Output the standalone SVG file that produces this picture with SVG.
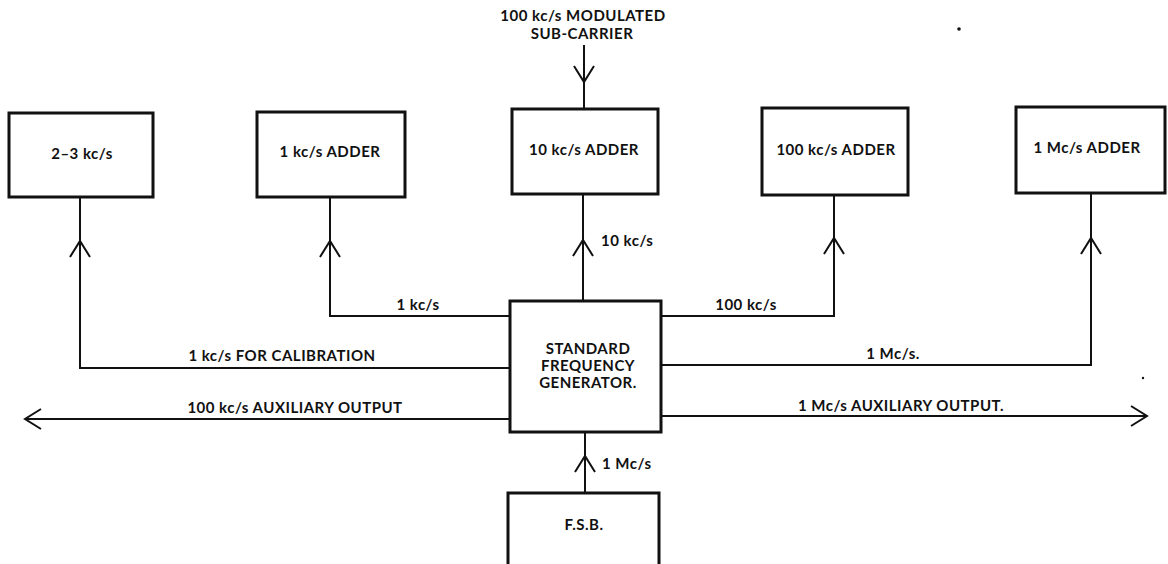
<svg xmlns="http://www.w3.org/2000/svg" width="1168" height="564" viewBox="0 0 1168 564">
<style>
.box{fill:#fff;stroke:#111;stroke-width:3}
.ln{fill:none;stroke:#111;stroke-width:2}
.ah{fill:none;stroke:#111;stroke-width:2;stroke-linejoin:miter}
text{font-family:Lato,"Open Sans","Liberation Sans",sans-serif;font-size:15px;letter-spacing:0.5px;fill:#111;font-weight:700}
.c{text-anchor:middle}
</style>
<defs>
<path id="up" d="M-10,16 L0,0 L10,16" class="ah"/>
</defs>
<rect width="1168" height="564" fill="#fff"/>
<g id="connectors">
<line class="ln" x1="584" y1="45" x2="584" y2="109"/>
<line class="ln" x1="583" y1="194" x2="583" y2="301"/>
<path class="ln" d="M510 316 H330 V197"/>
<path class="ln" d="M510 368 H80 V197"/>
<path class="ln" d="M661 316 H834 V195"/>
<path class="ln" d="M661 365 H1091 V193"/>
<line class="ln" x1="510" y1="419" x2="25" y2="419"/>
<line class="ln" x1="661" y1="416" x2="1147" y2="416"/>
<line class="ln" x1="585" y1="493" x2="585" y2="432"/>
<use href="#up" transform="translate(584,82) rotate(180)"/>
<use href="#up" transform="translate(583,240)"/>
<use href="#up" transform="translate(330,241)"/>
<use href="#up" transform="translate(80,241)"/>
<use href="#up" transform="translate(834,238)"/>
<use href="#up" transform="translate(1091,238)"/>
<use href="#up" transform="translate(25,419) rotate(-90)"/>
<use href="#up" transform="translate(1147,416) rotate(90)"/>
<use href="#up" transform="translate(585,456)"/>
<text class="c" x="583" y="21">100 kc/s MODULATED</text>
<text class="c" x="582" y="39">SUB-CARRIER</text>
<text x="601" y="246">10 kc/s</text>
<text class="c" x="418" y="310">1 kc/s</text>
<text class="c" x="282" y="361">1 kc/s FOR CALIBRATION</text>
<text class="c" x="295" y="413">100 kc/s AUXILIARY OUTPUT</text>
<text class="c" x="746" y="310">100 kc/s</text>
<text class="c" x="893" y="359">1 Mc/s.</text>
<text class="c" x="901" y="411">1 Mc/s AUXILIARY OUTPUT.</text>
<text x="602" y="469">1 Mc/s</text>
</g>
<g id="node-23kcs">
<rect class="box" x="9" y="113" width="144" height="84"/>
<text class="c" x="82" y="159">2–3 kc/s</text>
</g>
<g id="node-1kcs-adder">
<rect class="box" x="257" y="112" width="148" height="85"/>
<text class="c" x="330" y="157">1 kc/s ADDER</text>
</g>
<g id="node-10kcs-adder">
<rect class="box" x="512" y="109" width="146" height="85"/>
<text class="c" x="584" y="155">10 kc/s ADDER</text>
</g>
<g id="node-100kcs-adder">
<rect class="box" x="762" y="108" width="146" height="87"/>
<text class="c" x="836" y="155">100 kc/s ADDER</text>
</g>
<g id="node-1mcs-adder">
<rect class="box" x="1016" y="107" width="149" height="86"/>
<text class="c" x="1087" y="153">1 Mc/s ADDER</text>
</g>
<g id="node-generator">
<rect class="box" x="510" y="301" width="151" height="131"/>
<text class="c" x="588" y="354">STANDARD</text>
<text class="c" x="588" y="371">FREQUENCY</text>
<text class="c" x="588" y="388">GENERATOR.</text>
</g>
<g id="node-fsb">
<rect class="box" x="508" y="493" width="151" height="75"/>
<text class="c" x="584" y="530">F.S.B.</text>
</g>
<circle cx="959" cy="29" r="1.8" fill="#111"/>
<circle cx="1143" cy="378" r="1.2" fill="#111"/>
</svg>
